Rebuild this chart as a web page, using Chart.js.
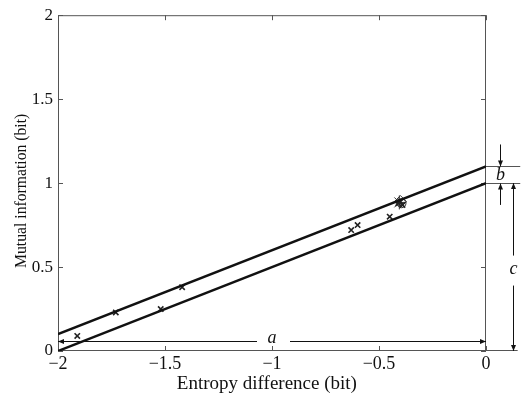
<!DOCTYPE html>
<html>
<head>
<meta charset="utf-8">
<script src="https://cdn.jsdelivr.net/npm/chart.js@4"></script>
<style>
  html, body { margin: 0; padding: 0; background: #fff; }
  #wrap { width: 525px; height: 396px; }
</style>
</head>
<body>
<div id="wrap"><canvas id="c" width="525" height="396"></canvas></div>
<script>
// Measured pairs: entropy difference vs. mutual information
const entropyDiff = [-1.91, -1.73, -1.52, -1.42, -0.63, -0.60, -0.45, -0.41, -0.40, -0.39];
const mutualInfo  = [0.09, 0.23, 0.25, 0.38, 0.72, 0.75, 0.80, 0.88, 0.89, 0.87];

// Overlapping trials around the densest point
const clusterX = [-0.405, -0.40, -0.395];
const clusterY = [0.885, 0.89, 0.88];

// Bounding lines of the admissible region
const boundX = [-2, 0];
const upperBound = [0.1, 1.1];
const lowerBound = [0, 1];

// Dimension markers: a (horizontal span), b (gap), c (height)
const dimA = { y: 0.058, from: -2, to: 0, label: 'a', at: -1 };
const dimB = { top: 1.1, bottom: 1.0, label: 'b' };
const dimC = { from: 1.0, to: 0, label: 'c', at: 0.485 };

const xTicks = [-2, -1.5, -1, -0.5, 0];
const xTickLabels = ['\u22122', '\u22121.5', '\u22121', '\u22120.5', '0'];
const yTicks = [0, 0.5, 1, 1.5, 2];
const yTickLabels = ['0', '0.5', '1', '1.5', '2'];

const xTitle = 'Entropy difference (bit)';
const yTitle = 'Mutual information (bit)';

const SERIF = '"Liberation Serif", "Times New Roman", serif';
const INK = '#111';
const FRAME = '#555';

const pts = (xs, ys) => xs.map((x, i) => ({ x, y: ys[i] }));

function arrowHead(ctx, x, y, dir) {
  // dir: 'up' | 'down' | 'left' | 'right'; (x, y) is the tip
  const L = 6, W = 2.5;
  ctx.beginPath();
  ctx.moveTo(x, y);
  if (dir === 'down') { ctx.lineTo(x - W, y - L); ctx.lineTo(x + W, y - L); }
  if (dir === 'up')   { ctx.lineTo(x - W, y + L); ctx.lineTo(x + W, y + L); }
  if (dir === 'left') { ctx.lineTo(x + L, y - W); ctx.lineTo(x + L, y + W); }
  if (dir === 'right'){ ctx.lineTo(x - L, y - W); ctx.lineTo(x - L, y + W); }
  ctx.closePath();
  ctx.fill();
}

function line(ctx, x1, y1, x2, y2) {
  ctx.beginPath();
  ctx.moveTo(x1, y1);
  ctx.lineTo(x2, y2);
  ctx.stroke();
}

const framePlugin = {
  id: 'frameAndDims',
  beforeDatasetsDraw(chart) {
    const { ctx, chartArea: ca, scales: { x, y } } = chart;
    ctx.save();
    ctx.strokeStyle = FRAME;
    ctx.lineWidth = 1;
    // box: left, top, right
    line(ctx, ca.left + 0.5, ca.top, ca.left + 0.5, ca.bottom);
    line(ctx, ca.left, ca.top + 0.5, ca.right, ca.top + 0.5);
    line(ctx, ca.right - 0.5, ca.top, ca.right - 0.5, ca.bottom);
    // bottom axis runs on past x = 0 under the c marker
    line(ctx, ca.left, ca.bottom - 0.5, x.getPixelForValue(0.148), ca.bottom - 0.5);
    // inward tick marks on all four sides
    const t = 5;
    xTicks.forEach(v => {
      const px = Math.round(x.getPixelForValue(v)) + 0.5;
      line(ctx, px, ca.bottom, px, ca.bottom - t);
      line(ctx, px, ca.top, px, ca.top + t);
    });
    yTicks.forEach(v => {
      const py = Math.round(y.getPixelForValue(v)) + 0.5;
      line(ctx, ca.left, py, ca.left + t, py);
      line(ctx, ca.right, py, ca.right - t, py);
    });

    // axis titles
    ctx.fillStyle = INK;
    ctx.textAlign = 'center';
    ctx.textBaseline = 'alphabetic';
    ctx.font = '19px ' + SERIF;
    ctx.fillText(xTitle, ca.left + (ca.right - ca.left) * 0.488, 389);
    ctx.save();
    ctx.translate(26, ca.top + (ca.bottom - ca.top) * 0.523);
    ctx.rotate(-Math.PI / 2);
    ctx.font = '15.7px ' + SERIF;
    ctx.fillText(yTitle, 0, 0);
    ctx.restore();
    ctx.restore();
  },
  afterDatasetsDraw(chart) {
    const { ctx, scales: { x, y } } = chart;
    ctx.save();
    ctx.strokeStyle = INK;
    ctx.fillStyle = INK;
    ctx.lineWidth = 1;
    ctx.font = 'italic 18px ' + SERIF;
    ctx.textAlign = 'center';
    ctx.textBaseline = 'middle';

    // a: horizontal span along the bottom
    const ay = Math.round(y.getPixelForValue(dimA.y)) + 0.5;
    const ax1 = x.getPixelForValue(dimA.from), ax2 = x.getPixelForValue(dimA.to);
    const axl = x.getPixelForValue(dimA.at);
    line(ctx, ax1, ay, axl - 15, ay);
    line(ctx, axl + 18, ay, ax2, ay);
    arrowHead(ctx, ax1, ay, 'left');
    arrowHead(ctx, ax2, ay, 'right');
    ctx.fillText(dimA.label, axl, ay - 3);

    // b: gap between the two bounds at x = 0
    const bx0 = x.getPixelForValue(0), bx1 = x.getPixelForValue(0.16);
    const bT = Math.round(y.getPixelForValue(dimB.top)) + 0.5;
    const bB = Math.round(y.getPixelForValue(dimB.bottom)) + 0.5;
    ctx.strokeStyle = FRAME;
    line(ctx, bx0, bT, bx1, bT);
    line(ctx, bx0, bB, bx1, bB);
    ctx.strokeStyle = INK;
    const bxa = Math.round(x.getPixelForValue(0.065)) + 0.5;
    line(ctx, bxa, y.getPixelForValue(1.23), bxa, bT);
    arrowHead(ctx, bxa, bT, 'down');
    line(ctx, bxa, y.getPixelForValue(0.87), bxa, bB);
    arrowHead(ctx, bxa, bB, 'up');
    ctx.fillText(dimB.label, bxa, (bT + bB) / 2);

    // c: height of the lower bound at x = 0
    const cx = Math.round(x.getPixelForValue(0.127)) + 0.5;
    const cT = y.getPixelForValue(dimC.from), cB = y.getPixelForValue(dimC.to);
    const cl = y.getPixelForValue(dimC.at);
    line(ctx, cx, cT, cx, cl - 14);
    line(ctx, cx, cl + 16, cx, cB);
    arrowHead(ctx, cx, cT, 'up');
    arrowHead(ctx, cx, cB, 'down');
    ctx.fillText(dimC.label, cx, cl);
    ctx.restore();
  }
};

new Chart(document.getElementById('c'), {
  type: 'scatter',
  data: {
    datasets: [
      {
        type: 'line',
        data: pts(boundX, upperBound),
        borderColor: INK, borderWidth: 2.5, pointRadius: 0, fill: false, tension: 0
      },
      {
        type: 'line',
        data: pts(boundX, lowerBound),
        borderColor: INK, borderWidth: 2.5, pointRadius: 0, fill: false, tension: 0
      },
      {
        data: pts(entropyDiff, mutualInfo),
        pointStyle: 'crossRot', pointRadius: 3.8, borderColor: '#222', borderWidth: 1.6,
        backgroundColor: 'transparent'
      },
      {
        data: pts(clusterX, clusterY),
        pointStyle: ['star', 'rectRot', 'circle'], pointRadius: [7, 6, 4.5],
        borderColor: '#333', borderWidth: 1, backgroundColor: 'transparent'
      }
    ]
  },
  options: {
    responsive: false,
    animation: false,
    events: [],
    layout: { padding: { top: 14, right: 39, left: 0, bottom: 0 } },
    plugins: { legend: { display: false }, tooltip: { enabled: false } },
    scales: {
      x: {
        type: 'linear', min: -2, max: 0,
        afterFit(s) { s.height = 45; },
        afterBuildTicks(s) { s.ticks = xTicks.map(v => ({ value: v })); },
        grid: { display: false, drawTicks: false },
        border: { display: false },
        ticks: {
          padding: 2, color: INK, font: { family: SERIF, size: 18 },
          maxRotation: 0, autoSkip: false,
          callback: (v, i) => xTickLabels[i]
        },
        title: { display: false }
      },
      y: {
        min: 0, max: 2,
        afterFit(s) { s.width = 58; },
        afterBuildTicks(s) { s.ticks = yTicks.map(v => ({ value: v })); },
        grid: { display: false, drawTicks: false },
        border: { display: false },
        ticks: {
          padding: 5, color: INK, font: { family: SERIF, size: 17 },
          autoSkip: false,
          callback: (v, i) => yTickLabels[i]
        },
        title: { display: false }
      }
    }
  },
  plugins: [framePlugin]
});
</script>
</body>
</html>
